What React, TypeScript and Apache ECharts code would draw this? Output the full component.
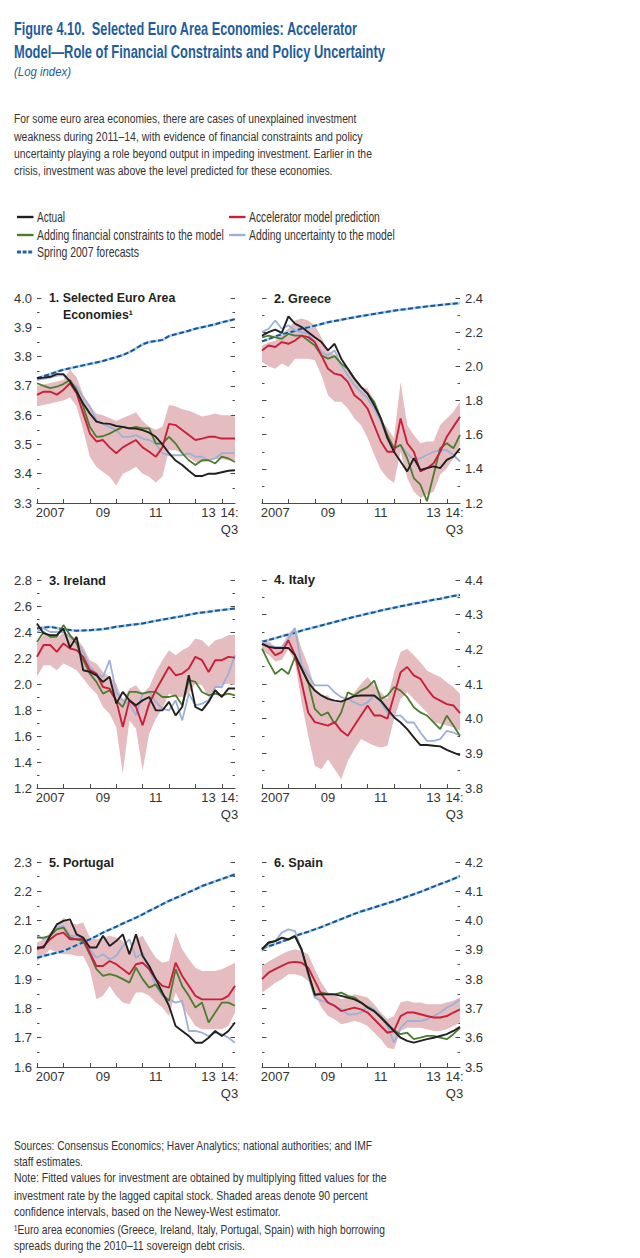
import { useEffect, useRef } from "react";
import * as echarts from "echarts";

// ---------- categories & tick labels ----------
const quarters = [
  "2007Q1", "2007Q2", "2007Q3", "2007Q4", "2008Q1", "2008Q2", "2008Q3", "2008Q4",
  "2009Q1", "2009Q2", "2009Q3", "2009Q4", "2010Q1", "2010Q2", "2010Q3", "2010Q4",
  "2011Q1", "2011Q2", "2011Q3", "2011Q4", "2012Q1", "2012Q2", "2012Q3", "2012Q4",
  "2013Q1", "2013Q2", "2013Q3", "2013Q4", "2014Q1", "2014Q2", "2014Q3",
];
const xLabelIndex = [2, 10, 18, 26, 30];
const xLabelText = ["2007", "09", "11", "13", "14:\nQ3"];
const yearTickIndex = [0, 4, 8, 12, 16, 20, 24, 28];

const panelTitles = [
  ["1. Selected Euro Area", "Economies\u00b9"],
  ["2. Greece"],
  ["3. Ireland"],
  ["4. Italy"],
  ["5. Portugal"],
  ["6. Spain"],
];
const yMin = [3.3, 1.2, 1.2, 3.8, 1.6, 3.5];
const yMax = [4.0, 2.4, 2.8, 4.4, 2.3, 4.2];
const yStep = [0.1, 0.2, 0.2, 0.1, 0.1, 0.1];

const names = [
  "Actual",
  "Accelerator model prediction",
  "Adding financial constraints to the model",
  "Adding uncertainty to the model",
  "Spring 2007 forecasts",
];

// ---------- 1. Selected Euro Area Economies ----------
const p1Actual = [3.726, 3.728, 3.731, 3.740, 3.740, 3.715, 3.680, 3.640, 3.606, 3.578, 3.572, 3.570, 3.563, 3.560, 3.555, 3.554, 3.549, 3.540, 3.526, 3.500, 3.470, 3.445, 3.430, 3.410, 3.392, 3.392, 3.400, 3.400, 3.405, 3.410, 3.412];
const p1Accel = [3.669, 3.680, 3.680, 3.670, 3.686, 3.709, 3.675, 3.606, 3.538, 3.510, 3.515, 3.490, 3.470, 3.490, 3.503, 3.515, 3.490, 3.475, 3.458, 3.490, 3.570, 3.566, 3.549, 3.532, 3.515, 3.520, 3.526, 3.526, 3.520, 3.520, 3.520];
const p1Fin = [3.709, 3.700, 3.692, 3.697, 3.706, 3.720, 3.686, 3.630, 3.560, 3.526, 3.528, 3.537, 3.549, 3.560, 3.555, 3.560, 3.555, 3.555, 3.503, 3.503, 3.526, 3.503, 3.470, 3.446, 3.430, 3.446, 3.446, 3.435, 3.458, 3.452, 3.440];
const p1Unc = [3.720, 3.725, 3.728, 3.735, 3.737, 3.712, 3.697, 3.660, 3.630, 3.583, 3.570, 3.560, 3.549, 3.526, 3.526, 3.532, 3.520, 3.515, 3.503, 3.470, 3.463, 3.463, 3.463, 3.470, 3.458, 3.458, 3.446, 3.452, 3.470, 3.470, 3.470];
const p1Spring = [3.726, 3.733, 3.740, 3.748, 3.755, 3.760, 3.765, 3.770, 3.775, 3.780, 3.785, 3.792, 3.798, 3.805, 3.815, 3.828, 3.842, 3.850, 3.853, 3.857, 3.870, 3.876, 3.882, 3.888, 3.895, 3.900, 3.905, 3.910, 3.917, 3.922, 3.928];
const p1Low = [3.630, 3.635, 3.640, 3.645, 3.650, 3.660, 3.630, 3.550, 3.458, 3.424, 3.406, 3.390, 3.360, 3.400, 3.410, 3.424, 3.400, 3.390, 3.370, 3.390, 3.480, 3.480, 3.470, 3.455, 3.440, 3.440, 3.446, 3.450, 3.450, 3.445, 3.446];
const p1High = [3.700, 3.705, 3.710, 3.715, 3.720, 3.755, 3.730, 3.670, 3.630, 3.606, 3.600, 3.590, 3.580, 3.590, 3.600, 3.610, 3.580, 3.560, 3.550, 3.560, 3.635, 3.630, 3.620, 3.615, 3.606, 3.595, 3.600, 3.606, 3.600, 3.600, 3.595];

// ---------- 2. Greece ----------
const p2Actual = [2.180, 2.200, 2.215, 2.196, 2.293, 2.250, 2.230, 2.200, 2.170, 2.142, 2.093, 2.132, 2.045, 1.986, 1.928, 1.880, 1.840, 1.773, 1.695, 1.580, 1.500, 1.443, 1.385, 1.462, 1.394, 1.404, 1.414, 1.404, 1.452, 1.472, 1.520];
const p2Accel = [2.093, 2.122, 2.113, 2.142, 2.132, 2.151, 2.180, 2.171, 2.142, 2.064, 1.986, 1.957, 1.948, 1.909, 1.831, 1.800, 1.753, 1.656, 1.560, 1.500, 1.500, 1.695, 1.550, 1.500, 1.385, 1.404, 1.433, 1.500, 1.588, 1.647, 1.705];
const p2Fin = [2.170, 2.180, 2.170, 2.161, 2.190, 2.180, 2.180, 2.151, 2.122, 2.064, 2.045, 2.060, 2.016, 1.986, 1.928, 1.880, 1.840, 1.792, 1.695, 1.598, 1.520, 1.540, 1.462, 1.346, 1.307, 1.210, 1.365, 1.520, 1.550, 1.520, 1.598];
const p2Unc = [2.200, 2.220, 2.268, 2.220, 2.240, 2.210, 2.200, 2.190, 2.142, 2.083, 2.064, 2.093, 2.006, 1.948, 1.890, 1.850, 1.812, 1.753, 1.676, 1.580, 1.520, 1.540, 1.491, 1.452, 1.462, 1.481, 1.500, 1.510, 1.510, 1.481, 1.443];
const p2Spring = [2.146, 2.160, 2.175, 2.188, 2.198, 2.207, 2.220, 2.228, 2.238, 2.248, 2.258, 2.265, 2.272, 2.280, 2.287, 2.294, 2.300, 2.307, 2.313, 2.320, 2.326, 2.331, 2.336, 2.341, 2.346, 2.351, 2.355, 2.359, 2.363, 2.367, 2.370];
const p2Low = [2.025, 2.000, 1.986, 2.016, 1.996, 2.045, 2.045, 2.045, 2.035, 1.948, 1.831, 1.792, 1.792, 1.753, 1.695, 1.656, 1.580, 1.482, 1.394, 1.346, 1.317, 1.500, 1.346, 1.268, 1.230, 1.250, 1.268, 1.365, 1.404, 1.462, 1.540];
const p2High = [2.122, 2.140, 2.150, 2.190, 2.220, 2.268, 2.280, 2.268, 2.240, 2.170, 2.093, 2.070, 2.025, 1.977, 1.928, 1.880, 1.870, 1.792, 1.695, 1.637, 1.580, 1.909, 1.656, 1.598, 1.550, 1.560, 1.560, 1.656, 1.695, 1.734, 1.792];

// ---------- 3. Ireland ----------
const p3Actual = [2.466, 2.389, 2.376, 2.376, 2.427, 2.280, 2.363, 2.106, 2.093, 2.067, 2.016, 2.055, 1.849, 1.939, 1.874, 1.836, 1.874, 1.900, 1.797, 1.797, 1.862, 1.759, 1.823, 2.067, 1.823, 1.797, 1.862, 1.952, 1.900, 1.965, 1.965];
const p3Accel = [2.209, 2.300, 2.300, 2.247, 2.312, 2.273, 2.260, 2.209, 2.106, 2.080, 1.977, 1.964, 1.874, 1.669, 1.874, 1.823, 1.682, 1.849, 1.952, 2.042, 2.132, 2.067, 2.080, 2.119, 2.209, 2.183, 2.093, 2.183, 2.183, 2.209, 2.203];
const p3Fin = [2.324, 2.400, 2.363, 2.363, 2.453, 2.376, 2.312, 2.183, 2.080, 2.016, 1.926, 1.952, 1.874, 1.823, 1.939, 1.939, 1.926, 1.939, 1.939, 1.900, 1.900, 1.913, 1.836, 2.029, 2.016, 1.939, 1.913, 1.926, 1.913, 1.926, 1.913];
const p3Unc = [2.400, 2.427, 2.400, 2.400, 2.400, 2.363, 2.324, 2.247, 2.132, 2.080, 2.055, 2.183, 1.939, 1.874, 1.849, 1.759, 1.926, 1.939, 1.862, 1.810, 1.797, 1.874, 1.720, 1.926, 1.836, 1.849, 1.874, 1.977, 1.977, 2.080, 2.222];
const p3Spring = [2.427, 2.434, 2.440, 2.430, 2.420, 2.415, 2.410, 2.412, 2.414, 2.418, 2.422, 2.430, 2.440, 2.447, 2.453, 2.460, 2.466, 2.476, 2.486, 2.495, 2.504, 2.513, 2.522, 2.533, 2.543, 2.550, 2.556, 2.563, 2.569, 2.575, 2.580];
const p3Low = [2.055, 2.144, 2.144, 2.106, 2.157, 2.132, 2.106, 2.042, 1.977, 1.926, 1.823, 1.772, 1.669, 1.310, 1.720, 1.656, 1.335, 1.617, 1.733, 1.810, 1.926, 1.900, 1.900, 1.926, 2.003, 1.990, 1.900, 1.977, 1.990, 2.003, 1.990];
const p3High = [2.312, 2.376, 2.376, 2.350, 2.400, 2.376, 2.350, 2.286, 2.183, 2.157, 2.093, 2.055, 2.003, 1.874, 1.965, 1.990, 1.926, 1.977, 2.093, 2.183, 2.260, 2.222, 2.260, 2.286, 2.350, 2.337, 2.286, 2.337, 2.350, 2.376, 2.376];

// ---------- 4. Italy ----------
const p4Actual = [4.216, 4.207, 4.204, 4.204, 4.204, 4.183, 4.144, 4.105, 4.081, 4.067, 4.057, 4.052, 4.049, 4.057, 4.065, 4.067, 4.067, 4.067, 4.052, 4.028, 4.004, 3.989, 3.970, 3.946, 3.924, 3.924, 3.922, 3.920, 3.910, 3.902, 3.895];
const p4Accel = [4.216, 4.207, 4.183, 4.192, 4.226, 4.183, 4.105, 4.018, 3.990, 3.985, 3.980, 3.990, 3.965, 3.951, 3.980, 4.009, 4.038, 4.009, 4.009, 4.000, 4.067, 4.134, 4.149, 4.125, 4.115, 4.086, 4.062, 4.052, 4.042, 4.038, 4.016];
const p4Fin = [4.202, 4.163, 4.129, 4.144, 4.129, 4.178, 4.144, 4.105, 4.028, 4.009, 4.018, 3.985, 4.018, 4.076, 4.067, 4.081, 4.091, 4.110, 4.057, 4.067, 4.091, 4.081, 4.062, 4.033, 4.018, 4.009, 3.989, 3.970, 4.009, 3.980, 3.951];
const p4Unc = [4.221, 4.212, 4.207, 4.205, 4.230, 4.260, 4.154, 4.125, 4.096, 4.096, 4.096, 4.076, 4.062, 4.057, 4.047, 4.038, 4.047, 4.067, 4.047, 4.018, 4.009, 4.009, 3.989, 3.989, 3.960, 3.936, 3.936, 3.941, 3.965, 3.960, 3.952];
const p4Spring = [4.222, 4.227, 4.232, 4.238, 4.243, 4.248, 4.254, 4.259, 4.264, 4.269, 4.274, 4.279, 4.284, 4.289, 4.294, 4.298, 4.303, 4.307, 4.312, 4.316, 4.320, 4.324, 4.328, 4.332, 4.335, 4.339, 4.343, 4.346, 4.350, 4.354, 4.357];
const p4Low = [4.195, 4.185, 4.165, 4.170, 4.200, 4.163, 4.047, 3.951, 3.864, 3.854, 3.883, 3.854, 3.825, 3.878, 3.912, 3.941, 3.931, 3.922, 3.917, 3.922, 3.999, 4.057, 4.076, 4.057, 4.038, 4.018, 3.989, 3.985, 3.980, 3.975, 3.965];
const p4High = [4.225, 4.225, 4.205, 4.210, 4.245, 4.265, 4.202, 4.154, 4.086, 4.067, 4.067, 4.047, 4.047, 4.057, 4.076, 4.100, 4.120, 4.096, 4.076, 4.057, 4.134, 4.192, 4.202, 4.183, 4.163, 4.139, 4.129, 4.120, 4.105, 4.091, 4.071];

// ---------- 5. Portugal ----------
const p5Actual = [2.008, 2.008, 2.048, 2.087, 2.099, 2.104, 2.053, 2.042, 2.008, 2.008, 2.048, 2.013, 2.030, 2.053, 1.985, 2.053, 1.979, 1.945, 1.900, 1.854, 1.809, 1.740, 1.723, 1.706, 1.683, 1.683, 1.700, 1.723, 1.706, 1.723, 1.752];
const p5Accel = [2.002, 2.013, 2.036, 2.053, 2.059, 2.036, 2.036, 2.036, 1.990, 1.945, 1.945, 1.962, 1.951, 1.934, 1.917, 1.951, 1.956, 1.934, 1.900, 1.877, 1.871, 1.956, 1.911, 1.877, 1.843, 1.831, 1.831, 1.831, 1.831, 1.843, 1.877];
const p5Fin = [2.042, 2.042, 2.048, 2.070, 2.076, 2.042, 2.036, 2.030, 1.985, 1.934, 1.911, 1.917, 1.911, 1.900, 1.888, 1.939, 1.900, 1.871, 1.882, 1.848, 1.826, 1.934, 1.877, 1.843, 1.803, 1.820, 1.752, 1.786, 1.820, 1.820, 1.809];
const p5Unc = [2.047, 2.036, 2.048, 2.076, 2.082, 2.048, 2.048, 2.036, 2.002, 1.973, 1.985, 1.968, 1.979, 2.013, 2.036, 1.973, 1.990, 1.934, 1.877, 1.843, 1.831, 1.820, 1.826, 1.723, 1.723, 1.717, 1.706, 1.717, 1.712, 1.700, 1.683];
const p5Spring = [1.973, 1.979, 1.985, 1.990, 1.996, 2.006, 2.016, 2.026, 2.036, 2.047, 2.059, 2.069, 2.079, 2.090, 2.100, 2.110, 2.121, 2.133, 2.144, 2.156, 2.167, 2.177, 2.187, 2.197, 2.207, 2.218, 2.226, 2.234, 2.242, 2.250, 2.258];
const p5Low = [1.962, 1.979, 2.002, 1.990, 1.985, 1.985, 1.979, 1.979, 1.934, 1.831, 1.843, 1.877, 1.843, 1.820, 1.814, 1.854, 1.854, 1.843, 1.820, 1.803, 1.774, 1.854, 1.809, 1.774, 1.740, 1.729, 1.729, 1.729, 1.729, 1.740, 1.786];
const p5High = [2.025, 2.036, 2.059, 2.082, 2.110, 2.093, 2.087, 2.093, 2.042, 2.036, 2.042, 2.048, 2.042, 2.030, 1.996, 2.036, 2.048, 2.008, 1.973, 1.956, 1.962, 2.059, 2.002, 1.968, 1.939, 1.928, 1.928, 1.928, 1.934, 1.945, 1.956];

// ---------- 6. Spain ----------
const p6Actual = [3.902, 3.925, 3.930, 3.942, 3.936, 3.947, 3.902, 3.822, 3.748, 3.748, 3.748, 3.748, 3.743, 3.737, 3.731, 3.720, 3.703, 3.691, 3.669, 3.646, 3.623, 3.600, 3.589, 3.583, 3.589, 3.595, 3.600, 3.606, 3.612, 3.623, 3.637];
const p6Accel = [3.800, 3.822, 3.834, 3.845, 3.856, 3.859, 3.856, 3.839, 3.794, 3.748, 3.720, 3.709, 3.691, 3.697, 3.703, 3.697, 3.686, 3.663, 3.640, 3.617, 3.623, 3.674, 3.686, 3.686, 3.680, 3.674, 3.669, 3.669, 3.674, 3.686, 3.697];
const p6Fin = [3.900, 3.925, 3.930, 3.940, 3.935, 3.945, 3.900, 3.820, 3.743, 3.754, 3.750, 3.748, 3.754, 3.743, 3.737, 3.720, 3.705, 3.690, 3.672, 3.648, 3.625, 3.612, 3.617, 3.595, 3.600, 3.606, 3.606, 3.600, 3.595, 3.612, 3.634];
const p6Unc = [3.896, 3.920, 3.930, 3.959, 3.970, 3.964, 3.896, 3.811, 3.737, 3.726, 3.720, 3.709, 3.697, 3.680, 3.680, 3.686, 3.709, 3.697, 3.674, 3.640, 3.583, 3.634, 3.657, 3.657, 3.657, 3.663, 3.674, 3.686, 3.703, 3.714, 3.731];
const p6Spring = [3.905, 3.912, 3.920, 3.928, 3.936, 3.947, 3.955, 3.962, 3.970, 3.978, 3.987, 3.996, 4.005, 4.014, 4.023, 4.031, 4.038, 4.045, 4.052, 4.059, 4.066, 4.074, 4.082, 4.090, 4.098, 4.107, 4.116, 4.125, 4.133, 4.142, 4.152];
const p6Low = [3.754, 3.770, 3.788, 3.800, 3.817, 3.817, 3.811, 3.794, 3.748, 3.703, 3.674, 3.663, 3.646, 3.651, 3.657, 3.651, 3.640, 3.617, 3.595, 3.566, 3.561, 3.623, 3.634, 3.634, 3.634, 3.629, 3.623, 3.623, 3.629, 3.640, 3.651];
const p6High = [3.845, 3.860, 3.873, 3.885, 3.896, 3.902, 3.896, 3.885, 3.834, 3.788, 3.754, 3.748, 3.731, 3.737, 3.748, 3.743, 3.737, 3.714, 3.686, 3.663, 3.674, 3.720, 3.726, 3.720, 3.720, 3.714, 3.714, 3.714, 3.720, 3.726, 3.737];

const panels = [
  { actual: p1Actual, accel: p1Accel, fin: p1Fin, unc: p1Unc, spring: p1Spring, low: p1Low, high: p1High },
  { actual: p2Actual, accel: p2Accel, fin: p2Fin, unc: p2Unc, spring: p2Spring, low: p2Low, high: p2High },
  { actual: p3Actual, accel: p3Accel, fin: p3Fin, unc: p3Unc, spring: p3Spring, low: p3Low, high: p3High },
  { actual: p4Actual, accel: p4Accel, fin: p4Fin, unc: p4Unc, spring: p4Spring, low: p4Low, high: p4High },
  { actual: p5Actual, accel: p5Accel, fin: p5Fin, unc: p5Unc, spring: p5Spring, low: p5Low, high: p5High },
  { actual: p6Actual, accel: p6Accel, fin: p6Fin, unc: p6Unc, spring: p6Spring, low: p6Low, high: p6High },
];

// ---------- text content ----------
const headerTitle = [
  "Figure 4.10.  Selected Euro Area Economies: Accelerator",
  "Model\u2014Role of Financial Constraints and Policy Uncertainty",
];
const headerSub = "(Log index)";
const headerPara = [
  "For some euro area economies, there are cases of unexplained investment",
  "weakness during 2011\u201314, with evidence of financial constraints and policy",
  "uncertainty playing a role beyond output in impeding investment. Earlier in the",
  "crisis, investment was above the level predicted for these economies.",
];
const footer = [
  "Sources: Consensus Economics; Haver Analytics; national authorities; and IMF",
  "staff estimates.",
  "Note: Fitted values for investment are obtained by multiplying fitted values for the",
  "investment rate by the lagged capital stock. Shaded areas denote 90 percent",
  "confidence intervals, based on the Newey-West estimator.",
  "\u00b9Euro area economies (Greece, Ireland, Italy, Portugal, Spain) with high borrowing",
  "spreads during the 2010\u201311 sovereign debt crisis.",
];

// ---------- styling ----------
const C = {
  actual: "#231f20",
  accel: "#c8203a",
  fin: "#4c7d2f",
  unc: "#9cb0d8",
  springDash: "#24508f",
  springUnder: "#9fd6f2",
  band: "#e5bdc0",
  blueTitle: "#1f5d9c",
  text: "#333333",
  axis: "#4a4a4a",
};
const NARROW = '"Liberation Sans Narrow", "Liberation Sans", Arial, sans-serif';

const grids = [
  { left: 37, top: 298, width: 198, height: 205 },
  { left: 262, top: 298, width: 198, height: 205 },
  { left: 37, top: 580, width: 198, height: 208 },
  { left: 262, top: 580, width: 198, height: 208 },
  { left: 37, top: 862, width: 198, height: 205 },
  { left: 262, top: 862, width: 198, height: 205 },
];

function makeMeasurer() {
  const cv = document.createElement("canvas");
  const ctx = cv.getContext("2d") as CanvasRenderingContext2D;
  return (text: string, size: number, weight: string, style: string, family: string) => {
    ctx.font = `${style} ${weight} ${size}px ${family}`;
    return ctx.measureText(text).width;
  };
}

export default function App() {
  const ref = useRef<HTMLDivElement>(null);

  useEffect(() => {
    if (!ref.current) return;
    const chart = echarts.init(ref.current, null, { renderer: "svg" });
    const measure = makeMeasurer();

    const hasNarrow =
      Math.abs(
        measure("2007 abc", 20, "normal", "normal", '"Liberation Sans Narrow", monospace') -
          measure("2007 abc", 20, "normal", "normal", "monospace")
      ) > 0.5;
    const axisFontSize = hasNarrow ? 15 : 13;

    const fitText = (
      text: string,
      x: number,
      y: number,
      size: number,
      weight: string,
      style: string,
      color: string,
      target: number
    ) => {
      const w = measure(text, size, weight, style, NARROW);
      return {
        type: "text",
        x,
        y,
        z: 100,
        scaleX: w > 0 ? target / w : 1,
        style: {
          text,
          fontSize: size,
          fontWeight: weight,
          fontStyle: style,
          fontFamily: NARROW,
          fill: color,
          align: "left",
          verticalAlign: "middle",
        },
      };
    };

    const graphics: any[] = [];
    const titleWidths = [344, 371];
    const titleY = [29, 52];
    headerTitle.forEach((t, i) =>
      graphics.push(fitText(t, 14, titleY[i], 17.5, "bold", "normal", C.blueTitle, titleWidths[i]))
    );
    graphics.push(fitText(headerSub, 14, 72, 13.5, "normal", "italic", C.blueTitle, 57));
    const paraWidths = [343, 349, 358, 319];
    const paraY = [119, 137, 154, 171];
    headerPara.forEach((t, i) =>
      graphics.push(fitText(t, 14, paraY[i], 13.5, "normal", "normal", C.text, paraWidths[i]))
    );

    // legend
    const legendItems = [
      { name: names[0], x: 17, y: 217, color: C.actual, dash: null, w: 28 },
      { name: names[1], x: 229, y: 217, color: C.accel, dash: null, w: 131 },
      { name: names[2], x: 17, y: 235, color: C.fin, dash: null, w: 187 },
      { name: names[3], x: 229, y: 235, color: C.unc, dash: null, w: 146 },
      { name: names[4], x: 17, y: 252, color: "#2463b0", dash: [4, 1.6], w: 102 },
    ];
    legendItems.forEach((it) => {
      graphics.push({
        type: "line",
        z: 100,
        shape: { x1: it.x, y1: it.y, x2: it.x + 16.5, y2: it.y },
        style: { stroke: it.color, lineWidth: it.dash ? 3 : 2.4, lineDash: it.dash || undefined },
      });
      graphics.push(fitText(it.name, it.x + 20, it.y, 14, "normal", "normal", C.text, it.w));
    });

    // panel titles
    const ptWidths = [[127, 70], [57], [57], [41], [65], [49]];
    panelTitles.forEach((lines, k) => {
      const g = grids[k];
      lines.forEach((t, j) => {
        const x = g.left + 12 + (j === 1 ? 14 : 0);
        const y = g.top + j * 16.5;
        graphics.push(fitText(t, x, y, 13, "bold", "normal", "#231f20", ptWidths[k][j]));
      });
    });

    // footer
    const footWidths = [359, 69, 373, 354, 267, 371, 231];
    const footY = [1145, 1161.5, 1177.5, 1195, 1211.5, 1229, 1246];
    footer.forEach((t, i) =>
      graphics.push(fitText(t, 14, footY[i], 13, "normal", "normal", C.text, footWidths[i]))
    );

    const labelText = { fontFamily: NARROW, fontSize: axisFontSize, color: C.text, lineHeight: 17 };

    const xAxes = grids.map((_, k) => ({
      type: "category",
      gridIndex: k,
      data: quarters,
      boundaryGap: false,
      axisLine: { show: true, lineStyle: { color: C.axis, width: 1.2 } },
      axisTick: {
        show: true,
        inside: true,
        length: 4,
        interval: (i: number) => yearTickIndex.includes(i),
        lineStyle: { color: C.axis, width: 1 },
      },
      axisLabel: {
        show: true,
        interval: (i: number) => xLabelIndex.includes(i),
        formatter: (_v: string, i: number) => {
          const p = xLabelIndex.indexOf(i);
          if (p < 0) return "";
          const t = xLabelText[p];
          if (t.includes("\n")) {
            return t
              .split("\n")
              .map((s) => `{end|${s}}`)
              .join("\n");
          }
          return t;
        },
        ...labelText,
        margin: 1,
        verticalAlign: "top",
        rich: { end: { ...labelText, padding: [0, 11, 0, 0] } },
      },
      splitLine: { show: false },
    }));

    const yAxes: any[] = [];
    grids.forEach((_, k) => {
      const labelsLeft = k % 2 === 0;
      ["left", "right"].forEach((pos) => {
        const showLabel = (pos === "left") === labelsLeft;
        yAxes.push({
          type: "value",
          gridIndex: k,
          position: pos,
          min: yMin[k],
          max: yMax[k],
          interval: yStep[k],
          axisLine: { show: false },
          axisTick: { show: true, inside: true, length: 4.5, lineStyle: { color: C.axis, width: 1 } },
          minorTick: { show: true, splitNumber: 2, length: 2.5, lineStyle: { color: C.axis, width: 1 } },
          splitLine: { show: false },
          minorSplitLine: { show: false },
          axisLabel: {
            show: showLabel,
            formatter: (v: number) => v.toFixed(1),
            fontFamily: NARROW,
            fontSize: axisFontSize,
            color: C.text,
            margin: pos === "left" ? 5 : 5,
          },
        });
      });
    });

    const series: any[] = [];
    panels.forEach((d, k) => {
      const base = { type: "line", xAxisIndex: k, yAxisIndex: 2 * k, symbol: "none", silent: true };
      const spread = d.high.map((h, i) => +(h - d.low[i]).toFixed(4));
      series.push({
        ...base,
        name: "band low",
        data: d.low,
        stack: "band" + k,
        lineStyle: { width: 0, opacity: 0 },
        z: 1,
      });
      series.push({
        ...base,
        name: "90 percent confidence interval",
        data: spread,
        stack: "band" + k,
        lineStyle: { width: 0, opacity: 0 },
        areaStyle: { color: C.band, opacity: 1 },
        z: 1,
      });
      series.push({ ...base, name: names[4] + " (underlay)", data: d.spring, lineStyle: { color: C.springUnder, width: 2.6 }, z: 2 });
      series.push({ ...base, name: names[4], data: d.spring, lineStyle: { color: C.springDash, width: 2, type: [5, 2.5] }, z: 3 });
      series.push({ ...base, name: names[3], data: d.unc, lineStyle: { color: C.unc, width: 1.8 }, z: 4 });
      series.push({ ...base, name: names[2], data: d.fin, lineStyle: { color: C.fin, width: 1.8 }, z: 5 });
      series.push({ ...base, name: names[1], data: d.accel, lineStyle: { color: C.accel, width: 1.9 }, z: 6 });
      series.push({ ...base, name: names[0], data: d.actual, lineStyle: { color: C.actual, width: 1.9 }, z: 7 });
    });

    chart.setOption({
      animation: false,
      backgroundColor: "#ffffff",
      grid: grids,
      xAxis: xAxes,
      yAxis: yAxes,
      series,
      graphic: graphics,
    });

    return () => chart.dispose();
  }, []);

  return (
    <div
      ref={ref}
      style={{ position: "absolute", left: 0, top: 0, width: 640, height: 1258, background: "#fff" }}
    />
  );
}
